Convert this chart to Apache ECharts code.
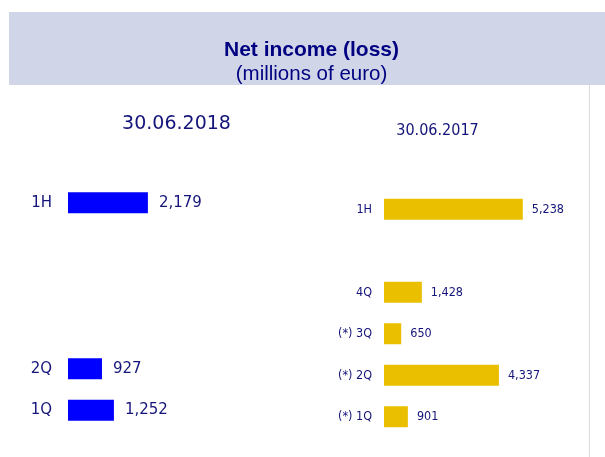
<!DOCTYPE html>
<html>
<head>
<meta charset="utf-8">
<script src="https://cdn.jsdelivr.net/npm/echarts@6/dist/echarts.min.js"></script>
<style>html,body{margin:0;padding:0;background:#fff}#c{width:605px;height:457px}</style>
</head>
<body>
<div id="c"></div>
<script>
// Data
var titleMain = 'Net income (loss)';
var titleSub = '(millions of euro)';
var leftTitle = '30.06.2018';
var rightTitle = '30.06.2017';
var leftCategories = ['1Q', '2Q', ' ', '  ', '   ', '1H'];
var leftValues = [1252, 927, null, null, null, 2179];
var rightCategories = ['(*) 1Q', '(*) 2Q', '(*) 3Q', '4Q', ' ', '1H'];
var rightValues = [901, 4337, 650, 1428, null, 5238];

var navy = '#14147a';
var condensed = '"DejaVu Sans Condensed", "Liberation Sans Narrow", "DejaVu Sans", sans-serif';
function fmt(v) { return Number(v).toLocaleString('en-US'); }

var chart = echarts.init(document.getElementById('c'), null, {renderer: 'canvas'});
chart.setOption({
  animation: false,
  backgroundColor: '#ffffff',
  graphic: [
    {type: 'rect', shape: {x: 9, y: 12, width: 596, height: 73}, style: {fill: '#d0d6e8'}, z: 0},
    {type: 'line', shape: {x1: 589.5, y1: 85, x2: 589.5, y2: 457}, style: {stroke: '#dcdcdc', lineWidth: 1}, z: 0},
    {type: 'text', x: 311.5, y: 50, style: {text: titleMain, fill: '#000080', font: 'bold 21px "Liberation Sans", Arial, sans-serif', textAlign: 'center', textVerticalAlign: 'middle'}, z: 2},
    {type: 'text', x: 311.5, y: 74, style: {text: titleSub, fill: '#000080', font: '20.5px "Liberation Sans", Arial, sans-serif', textAlign: 'center', textVerticalAlign: 'middle'}, z: 2},
    {type: 'text', x: 176.5, y: 124, style: {text: leftTitle, fill: navy, font: '19px "DejaVu Sans", sans-serif', textAlign: 'center', textVerticalAlign: 'middle'}, z: 2},
    {type: 'text', x: 437.5, y: 131, style: {text: rightTitle, fill: navy, font: '16px ' + condensed, textAlign: 'center', textVerticalAlign: 'middle'}, z: 2}
  ],
  grid: [
    {left: 68, top: 182, width: 220, height: 249, containLabel: false},
    {left: 384, top: 188.5, width: 212, height: 249, containLabel: false}
  ],
  xAxis: [
    {type: 'value', gridIndex: 0, min: 0, max: 6000, show: false},
    {type: 'value', gridIndex: 1, min: 0, max: 8000, show: false}
  ],
  yAxis: [
    {type: 'category', gridIndex: 0, data: leftCategories,
     axisLine: {show: false}, axisTick: {show: false}, splitLine: {show: false},
     axisLabel: {color: navy, fontSize: 15, fontFamily: '"DejaVu Sans", sans-serif', margin: 16}},
    {type: 'category', gridIndex: 1, data: rightCategories,
     axisLine: {show: false}, axisTick: {show: false}, splitLine: {show: false},
     axisLabel: {color: navy, fontSize: 12.5, fontFamily: condensed, margin: 12}}
  ],
  series: [
    {type: 'bar', xAxisIndex: 0, yAxisIndex: 0, data: leftValues, barWidth: 21,
     itemStyle: {color: '#0000ff'},
     label: {show: true, position: 'right', distance: 11, color: navy, fontSize: 15, fontFamily: '"DejaVu Sans", sans-serif',
       formatter: function (p) { return fmt(p.value); }}},
    {type: 'bar', xAxisIndex: 1, yAxisIndex: 1, data: rightValues, barWidth: 21,
     itemStyle: {color: '#e9bf00'},
     label: {show: true, position: 'right', distance: 9, color: navy, fontSize: 12.5, fontFamily: condensed,
       formatter: function (p) { return fmt(p.value); }}}
  ]
});
</script>
</body>
</html>
